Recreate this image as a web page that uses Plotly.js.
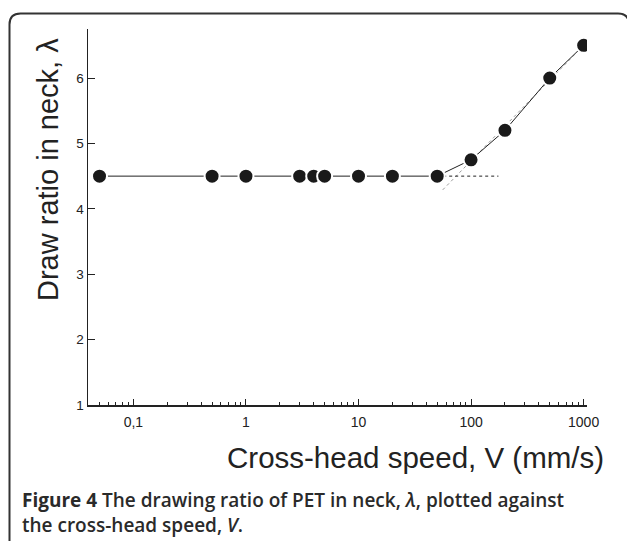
<!DOCTYPE html>
<html>
<head>
<meta charset="utf-8">
<script src="https://cdn.plot.ly/plotly-3.0.1.min.js"></script>
<style>html,body{margin:0;padding:0;background:#fff;}#chart{width:627px;height:541px;}</style>
</head>
<body>
<div id="chart"></div>
<script>
// ---- data ----
const speed = [0.05, 0.5, 1, 3, 4, 5, 10, 20, 50, 100, 200, 500, 1000];
const ratio = [4.5, 4.5, 4.5, 4.5, 4.5, 4.5, 4.5, 4.5, 4.5, 4.75, 5.2, 6.0, 6.5];
const plateauX = [50, 175];
const plateauY = [4.5, 4.5];
const fitX = [56, 1000];
const fitY = [4.29, 6.5];
const xTickVals = [0.1, 1, 10, 100, 1000];
const xTickText = ['0,1', '1', '10', '100', '1000'];
const yTickVals = [1, 2, 3, 4, 5, 6];

// ---- layout helpers (pixel -> paper) ----
const W = 627, H = 541, L = 88, R = 40, T = 29, B = 136;
const pw = W - L - R, ph = H - T - B;
const px = v => (v - L) / pw;
const py = v => (H - B - v) / ph;

const minorVals = [];
for (let d = -2; d <= 3; d++) {
  for (let m = 2; m <= 9; m++) {
    const v = m * Math.pow(10, d);
    if (v > 0.045 && v < 1070) minorVals.push(v);
  }
}

// rounded border
const bl = px(9.5), br = px(629), bt = py(13.5), bb = py(570);
const rx = 11 / pw, ry = 11 / ph;
const borderPath = `M${bl},${bb} L${bl},${bt - ry} Q${bl},${bt} ${bl + rx},${bt} L${br - rx},${bt} Q${br},${bt} ${br},${bt - ry} L${br},${bb}`;

const ink = '#222222';
const capFont = {size: 19, color: '#2a2a2a', family: 'Open Sans, Noto Sans, sans-serif', weight: 600};
const traces = [
  {x: fitX, y: fitY, mode: 'lines', line: {color: '#9a9a9a', width: 1, dash: 'dot'}, hoverinfo: 'skip'},
  {x: plateauX, y: plateauY, mode: 'lines', line: {color: ink, width: 1, dash: 'dot'}, hoverinfo: 'skip'},
  {x: speed, y: ratio, mode: 'lines+markers',
   line: {color: ink, width: 1},
   marker: {size: 15, color: '#1a1a1a', line: {color: '#ffffff', width: 2}}}
];

const layout = {
  width: W, height: H,
  margin: {l: L, r: R, t: T, b: B, pad: 0},
  paper_bgcolor: '#ffffff', plot_bgcolor: '#ffffff',
  showlegend: false,
  font: {family: 'Liberation Sans, Arial, sans-serif', color: ink},
  xaxis: {
    type: 'log', range: [Math.log10(0.0395), 3.03],
    showgrid: false, zeroline: false,
    showline: true, linecolor: ink, linewidth: 1.5,
    ticks: 'inside', ticklen: 6, tickwidth: 1, tickcolor: ink,
    tickmode: 'array', tickvals: xTickVals, ticktext: xTickText,
    tickfont: {size: 14, color: ink}, ticklabelstandoff: 4,
    minor: {tickmode: 'array', tickvals: minorVals, ticks: 'inside', ticklen: 3, tickwidth: 1, tickcolor: ink, showgrid: false}
  },
  yaxis: {
    range: [1, 6.75],
    showgrid: false, zeroline: false,
    showline: true, linecolor: ink, linewidth: 1.5,
    ticks: 'inside', ticklen: 7, tickwidth: 1, tickcolor: ink,
    tickmode: 'array', tickvals: yTickVals,
    tickfont: {size: 13.5, color: ink}, ticklabelstandoff: 0
  },
  shapes: [
    {type: 'path', xref: 'paper', yref: 'paper', path: borderPath, line: {color: '#333333', width: 2}, layer: 'above'}
  ],
  annotations: [
    {xref: 'paper', yref: 'paper', x: px(606), y: py(457), xanchor: 'right', yanchor: 'middle',
     text: 'Cross-head speed, V (mm/s)', showarrow: false,
     font: {size: 29.5, color: ink, family: 'Liberation Sans, Arial, sans-serif'}},
    {xref: 'paper', yref: 'paper', x: px(48), y: py(170), xanchor: 'center', yanchor: 'middle', textangle: -90,
     text: 'Draw ratio in neck, λ', showarrow: false,
     font: {size: 29, color: ink, family: 'Liberation Sans, Arial, sans-serif'}},
    {xref: 'paper', yref: 'paper', x: px(21), y: py(499.5), xanchor: 'left', yanchor: 'middle', align: 'left',
     borderpad: 0,
     text: '<b>Figure 4</b> The drawing ratio of PET in neck, <i>λ</i>, plotted against',
     showarrow: false, font: capFont},
    {xref: 'paper', yref: 'paper', x: px(21), y: py(524.5), xanchor: 'left', yanchor: 'middle', align: 'left',
     borderpad: 0,
     text: 'the cross-head speed, <i>V</i>.',
     showarrow: false, font: capFont}
  ]
};

Plotly.newPlot('chart', traces, layout, {displayModeBar: false, staticPlot: true});
</script>
</body>
</html>
